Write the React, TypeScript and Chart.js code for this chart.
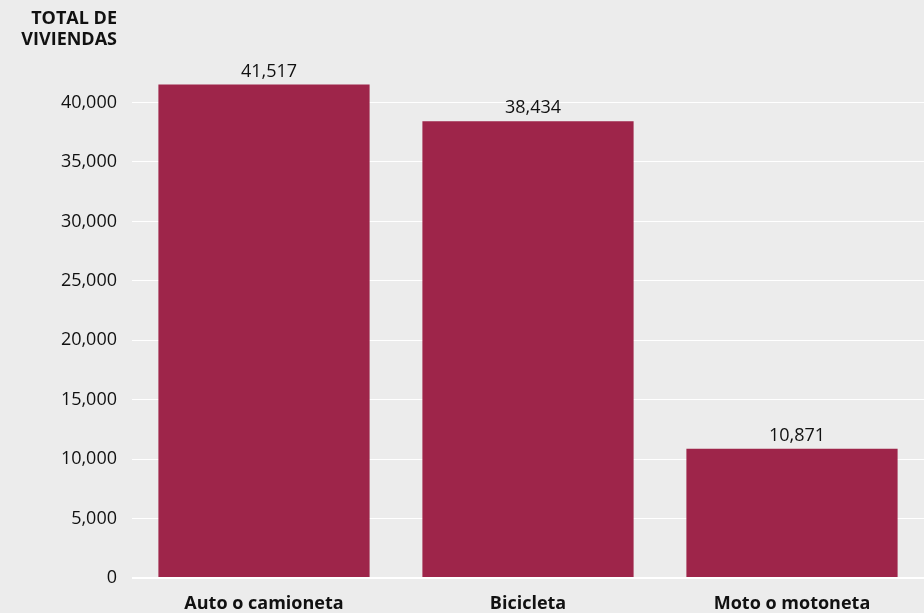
import React, { useEffect, useRef } from "react";
import { Chart, registerables } from "chart.js";

Chart.register(...registerables);

const categories = ["Auto o camioneta", "Bicicleta", "Moto o motoneta"];
const values = [41517, 38434, 10871];
const yTicks = [0, 5000, 10000, 15000, 20000, 25000, 30000, 35000, 40000];
const yTitleLines = ["TOTAL DE", "VIVIENDAS"];
const yMax = 44000;

const BG = "#ececec";
const BAR = "#9e254a";
const FONT = '"Open Sans", "Noto Sans", sans-serif';

export default function App() {
  const ref = useRef<HTMLCanvasElement | null>(null);

  useEffect(() => {
    let chart: Chart | null = null;
    let cancelled = false;
    const make = () => {
      if (cancelled || !ref.current) return;
      const bgPlugin = {
        id: "bg",
        beforeDraw(c: any) {
          const ctx = c.ctx;
          ctx.save();
          ctx.fillStyle = BG;
          ctx.fillRect(0, 0, c.width, c.height);
          ctx.restore();
        },
      };
      const labelPlugin = {
        id: "labels",
        afterDatasetsDraw(c: any) {
          const ctx = c.ctx;
          const meta = c.getDatasetMeta(0);
          ctx.save();
          ctx.fillStyle = "#111";
          ctx.font = `18px ${FONT}`;
          ctx.textAlign = "center";
          ctx.textBaseline = "alphabetic";
          meta.data.forEach((el: any, i: number) => {
            ctx.fillText(values[i].toLocaleString("en-US"), el.x + 5, el.y - 8);
          });
          ctx.font = `bold 18px ${FONT}`;
          ctx.textAlign = "right";
          ctx.textBaseline = "middle";
          yTitleLines.forEach((t, i) => {
            ctx.fillText(t, 117, 19 + i * 21);
          });
          ctx.restore();
        },
      };
      chart = new Chart(ref.current, {
        type: "bar",
        data: {
          labels: categories,
          datasets: [
            {
              data: values,
              backgroundColor: BAR,
              borderWidth: 0,
              categoryPercentage: 0.8,
              barPercentage: 1,
            },
          ],
        },
        options: {
          animation: false,
          responsive: false,
          devicePixelRatio: 1,
          layout: { padding: { top: 55, right: 0, left: 0, bottom: 0 } },
          plugins: {
            legend: { display: false },
            tooltip: { enabled: false },
          },
          scales: {
            x: {
              grid: { display: false, drawTicks: false },
              border: { display: false },
              ticks: {
                color: "#111",
                font: { family: FONT, size: 18, weight: "bold" },
                padding: 15,
                maxRotation: 0,
              },
              afterFit(scale: any) {
                scale.height = 35;
              },
            },
            y: {
              min: 0,
              max: yMax,
              grid: {
                color: "#ffffff",
                lineWidth: (ctx: any) => (ctx.tick && ctx.tick.value === 0 ? 2 : 1),
                drawTicks: false,
              },
              border: { display: false },
              ticks: {
                color: "#111",
                padding: 15,
                font: { family: FONT, size: 18 },
                callback: (v: any) => Number(v).toLocaleString("en-US"),
              },
              afterBuildTicks(axis: any) {
                axis.ticks = yTicks.map((v) => ({ value: v }));
              },
              afterFit(scale: any) {
                scale.width = 132;
              },
            },
          },
        },
        plugins: [bgPlugin, labelPlugin],
      } as any);
    };
    const fonts: any = (document as any).fonts;
    if (fonts && fonts.load) {
      Promise.all([
        fonts.load(`18px "Open Sans"`),
        fonts.load(`bold 18px "Open Sans"`),
      ])
        .catch(() => {})
        .then(make);
    } else {
      make();
    }
    return () => {
      cancelled = true;
      if (chart) chart.destroy();
    };
  }, []);

  return (
    <div style={{ position: "fixed", left: 0, top: 0, width: 924, height: 613, background: BG }}>
      <canvas ref={ref} width={924} height={613} style={{ display: "block", width: 924, height: 613 }} />
    </div>
  );
}
